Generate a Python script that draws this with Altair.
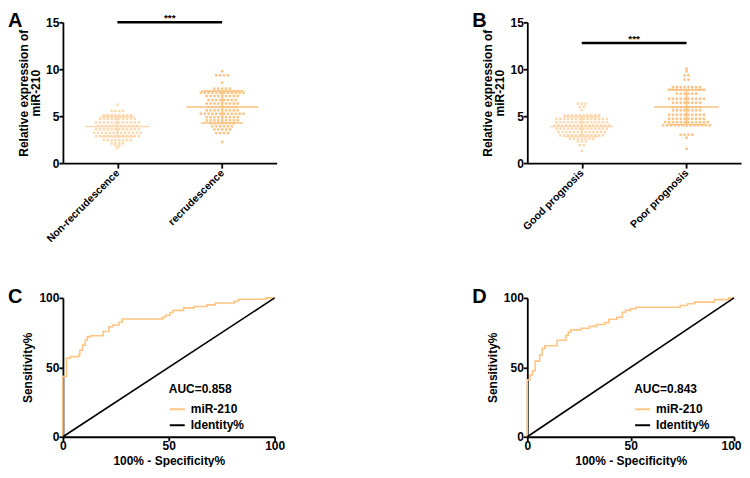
import altair as alt
import pandas as pd

FONT = "Liberation Sans"
LIGHT = "#FDD7AE"
DARK = "#FFC17F"
ROC_COLOR = "#FFC583"

# ---------------- Panel A data (rows of the scatter-dot plot) ----------------
A_cats = ["Non-recrudescence", "recrudescence"]
A1_levels = [6.22, 5.55, 5.1, 4.73, 4.33, 3.95, 3.6, 3.22, 2.86, 2.45, 2.1, 1.85, 1.6]
A1_counts = [1, 4, 8, 10, 12, 11, 12, 13, 12, 8, 4, 2, 1]
A2_levels = [9.78, 9.35, 8.57, 7.93, 7.5, 7.15, 6.72, 6.35, 5.98, 5.62, 5.26, 4.9, 4.55, 4.25, 3.92, 3.58, 3.2, 2.24]
A2_counts = [1, 4, 1, 5, 12, 9, 8, 9, 8, 9, 12, 9, 9, 7, 6, 5, 4, 1]
A_means = [3.9, 5.97]
A_sds = [1.05, 1.7]
A_sig = 15.0

# ---------------- Panel B data ----------------
B_cats = ["Good prognosis", "Poor prognosis"]
B1_levels = [6.33, 6.0, 5.65, 5.1, 4.72, 4.37, 4.02, 3.66, 3.3, 2.95, 2.6, 2.3, 1.92, 1.3]
B1_counts = [3, 2, 1, 10, 14, 14, 15, 14, 13, 12, 7, 3, 2, 1]
B2_levels = [10.06, 9.78, 9.35, 8.9, 8.1, 7.82, 7.4, 6.86, 6.44, 5.97, 5.62, 5.16, 4.73, 4.37, 4.02, 3.03, 2.7, 1.53]
B2_counts = [1, 1, 2, 2, 8, 10, 6, 10, 8, 8, 8, 10, 10, 12, 13, 4, 1, 1]
B_means = [3.9, 5.97]
B_sds = [1.05, 1.85]
B_sig = 12.8

# ---------------- Panel C ROC ----------------
C_fpr = [0, 0, 1.7, 1.7, 3.5, 3.5, 7.5, 7.5, 8, 8, 9.3, 9.3, 10.5, 10.5, 11.5, 11.5, 13, 13,
         19, 19, 21.7, 21.7, 23.5, 23.5, 26.5, 26.5, 28, 28, 47, 47, 48.5, 48.5, 50.5, 50.5,
         52, 52, 57, 57, 62, 62, 68, 68, 72, 72, 81, 81, 83, 83, 96, 96, 100]
C_tpr = [0, 43.5, 43.5, 56.5, 56.5, 57.7, 57.7, 59, 59, 62.4, 62.4, 66, 66, 69.5, 69.5, 71.9, 71.9, 72.7,
         72.7, 75.8, 75.8, 79.2, 79.2, 80.5, 80.5, 82.5, 82.5, 84.8, 84.8, 86, 86, 87.5, 87.5, 89.5,
         89.5, 91, 91, 92.8, 92.8, 93.8, 93.8, 95, 95, 96.3, 96.3, 97.6, 97.6, 99, 99, 100, 100]
C_auc = "AUC=0.858"

# ---------------- Panel D ROC ----------------
D_fpr = [0, 0, 1.3, 1.3, 2.5, 2.5, 3.8, 3.8, 6, 6, 7.2, 7.2, 8.5, 8.5, 14.5, 14.5, 18.7, 18.7,
         19.8, 19.8, 21, 21, 26, 26, 30, 30, 33.5, 33.5, 37.5, 37.5, 39.5, 39.5, 43.3, 43.3,
         46, 46, 47.5, 47.5, 50, 50, 52.5, 52.5, 74, 74, 77.5, 77.5, 81, 81, 90.5, 90.5, 97.5, 97.5, 100]
D_tpr = [0, 41, 41, 44.5, 44.5, 47.5, 47.5, 54.5, 54.5, 58.8, 58.8, 63.5, 63.5, 65.5, 65.5, 69.5, 69.5, 73,
         73, 75.3, 75.3, 77, 77, 78.2, 78.2, 79.5, 79.5, 80.8, 80.8, 82.2, 82.2, 84.6, 84.6, 86,
         86, 89.7, 89.7, 91, 91, 92.2, 92.2, 93.3, 93.3, 94.5, 94.5, 95.8, 95.8, 97, 97, 98.8, 98.8, 100, 100]
D_auc = "AUC=0.843"

ROC_series = ["miR-210", "Identity%"]
ident_x = [0, 100]
ident_y = [0, 100]

# ---------------- styling constants (not data) ----------------
DOT_STEP = 0.037      # horizontal step of the swarm in x-units
X_DOMAIN = [0.48, 2.52]


def letter_layer(letter):
    return alt.Chart(pd.DataFrame({"t": [letter]})).mark_text(
        font=FONT, fontSize=20, fontWeight="bold", align="left", baseline="top", color="black"
    ).encode(x=alt.value(-55), y=alt.value(-11), text="t:N")


def scatter_panel(letter, cats, groups, means, sds, sig, colors, width, hw_mean, hw_cap):
    rows = []
    for gi, (levels, counts) in enumerate(groups):
        for lv, ct in zip(levels, counts):
            for k in range(ct):
                rows.append({"x": gi + 1 + (k - (ct - 1) / 2) * DOT_STEP, "y": lv, "g": cats[gi]})
    pts = pd.DataFrame(rows)

    stats_rows, cap_rows = [], []
    for gi in range(2):
        c = gi + 1
        stats_rows.append({"x": c - hw_mean[gi], "x2": c + hw_mean[gi], "y": means[gi],
                           "lo": means[gi] - sds[gi], "hi": means[gi] + sds[gi], "c": c, "g": cats[gi]})
        for v in (means[gi] - sds[gi], means[gi] + sds[gi]):
            cap_rows.append({"x": c - hw_cap[gi], "x2": c + hw_cap[gi], "y": v, "g": cats[gi]})
    stats = pd.DataFrame(stats_rows)
    caps = pd.DataFrame(cap_rows)
    sigdf = pd.DataFrame({"x": [1], "x2": [2], "y": [sig], "xm": [1.5], "t": ["***"]})

    label_expr = "datum.value == 1 ? '%s' : '%s'" % (cats[0], cats[1])
    xaxis = alt.Axis(values=[1, 2], labelExpr=label_expr, labelAngle=-45, labelAlign="right",
                     labelBaseline="middle", labelFontSize=10.5, labelPadding=3, tickSize=5,
                     labelFlush=False, title=None)
    yaxis = alt.Axis(values=[0, 5, 10, 15], title=["Relative expression of", "miR-210"],
                     titlePadding=3, titleLineHeight=12.5, labelPadding=0)
    xs = alt.Scale(domain=X_DOMAIN, nice=False, zero=False)
    ys = alt.Scale(domain=[0, 15], nice=False)
    col = alt.Color("g:N", scale=alt.Scale(domain=cats, range=colors), legend=None)

    dots = alt.Chart(pts).mark_square(size=6, opacity=1).encode(
        x=alt.X("x:Q", scale=xs, axis=xaxis), y=alt.Y("y:Q", scale=ys, axis=yaxis), color=col)
    mean_line = alt.Chart(stats).mark_rule(strokeWidth=1.6).encode(
        x=alt.X("x:Q", scale=xs, axis=xaxis), x2="x2:Q", y=alt.Y("y:Q", scale=ys, axis=yaxis), color=col)
    sd_line = alt.Chart(stats).mark_rule(strokeWidth=1.6).encode(
        x=alt.X("c:Q", scale=xs, axis=xaxis), y=alt.Y("lo:Q", scale=ys, axis=yaxis), y2="hi:Q", color=col)
    cap_line = alt.Chart(caps).mark_rule(strokeWidth=1.6).encode(
        x=alt.X("x:Q", scale=xs, axis=xaxis), x2="x2:Q", y=alt.Y("y:Q", scale=ys, axis=yaxis), color=col)
    sig_line = alt.Chart(sigdf).mark_rule(strokeWidth=2.6, color="black").encode(
        x=alt.X("x:Q", scale=xs, axis=xaxis), x2="x2:Q", y=alt.Y("y:Q", scale=ys, axis=yaxis))
    sig_text = alt.Chart(sigdf).mark_text(font=FONT, fontSize=10, fontWeight="bold", color="black",
                                          baseline="alphabetic", dy=-1).encode(
        x=alt.X("xm:Q", scale=xs, axis=xaxis), y=alt.Y("y:Q", scale=ys, axis=yaxis), text="t:N")

    return alt.layer(dots, mean_line, sd_line, cap_line, sig_line, sig_text,
                     letter_layer(letter)).properties(width=width, height=141)


def roc_panel(letter, fpr, tpr, auc, width, legend_x, last_label_offset):
    df = pd.DataFrame({"x": fpr, "y": tpr, "s": ROC_series[0], "o": list(range(len(fpr)))})
    idf = pd.DataFrame({"x": ident_x, "y": ident_y, "s": ROC_series[1], "o": [0, 1]})
    data = pd.concat([df, idf], ignore_index=True)
    xs = alt.Scale(domain=[0, 100], nice=False)
    ys = alt.Scale(domain=[0, 100], nice=False)
    xaxis = alt.Axis(values=[0, 50, 100], title="100% - Specificity%", titlePadding=4,
                     labelFlush=False, labelPadding=0,
                     labelOffset={"condition": {"test": "datum.value == 100", "value": last_label_offset},
                                  "value": 0})
    yaxis = alt.Axis(values=[0, 50, 100], title="Sensitivity%", titlePadding=4, labelPadding=0)
    legend = alt.Legend(title=auc, orient="none", legendX=legend_x, legendY=86, symbolType="stroke",
                        symbolSize=225, symbolStrokeWidth=2, labelFont=FONT, labelFontSize=12,
                        labelFontWeight="bold", labelColor="black", titleFont=FONT, titleFontSize=12,
                        titleFontWeight="bold", titleColor="black", titlePadding=5, labelOffset=5,
                        rowPadding=1, padding=0)
    lines = alt.Chart(data).mark_line(strokeWidth=1.6).encode(
        x=alt.X("x:Q", scale=xs, axis=xaxis),
        y=alt.Y("y:Q", scale=ys, axis=yaxis),
        color=alt.Color("s:N", scale=alt.Scale(domain=ROC_series, range=[ROC_COLOR, "black"]),
                        legend=legend, sort=ROC_series),
        detail="s:N",
        order="o:Q",
    )
    return alt.layer(lines, letter_layer(letter)).properties(width=width, height=139)


A = scatter_panel("A", A_cats, [(A1_levels, A1_counts), (A2_levels, A2_counts)], A_means, A_sds,
                  A_sig, [LIGHT, DARK], 214, [0.305, 0.343], [0.16, 0.2])
B = scatter_panel("B", B_cats, [(B1_levels, B1_counts), (B2_levels, B2_counts)], B_means, B_sds,
                  B_sig, [LIGHT, DARK], 214, [0.3, 0.31], [0.17, 0.18])
C = roc_panel("C", C_fpr, C_tpr, C_auc, 212, 106, 0)
D = roc_panel("D", D_fpr, D_tpr, D_auc, 207, 107, -3)

chart = alt.concat(
    A, B, C, D, columns=2, spacing={"row": 42, "column": 187},
    padding={"top": 3, "left": 0, "right": 0, "bottom": 0},
).resolve_scale(
    color="independent", x="independent", y="independent"
).resolve_legend(color="independent").configure_view(stroke=None).configure_axis(
    grid=False, domainColor="black", domainWidth=1.8, tickColor="black", tickWidth=1.8, tickSize=4,
    labelColor="black", labelFont=FONT, labelFontSize=12, labelFontWeight="bold",
    titleColor="black", titleFont=FONT, titleFontSize=12, titleFontWeight="bold"
)

chart.save("out.html", embed_options={"renderer": "svg", "actions": False})
